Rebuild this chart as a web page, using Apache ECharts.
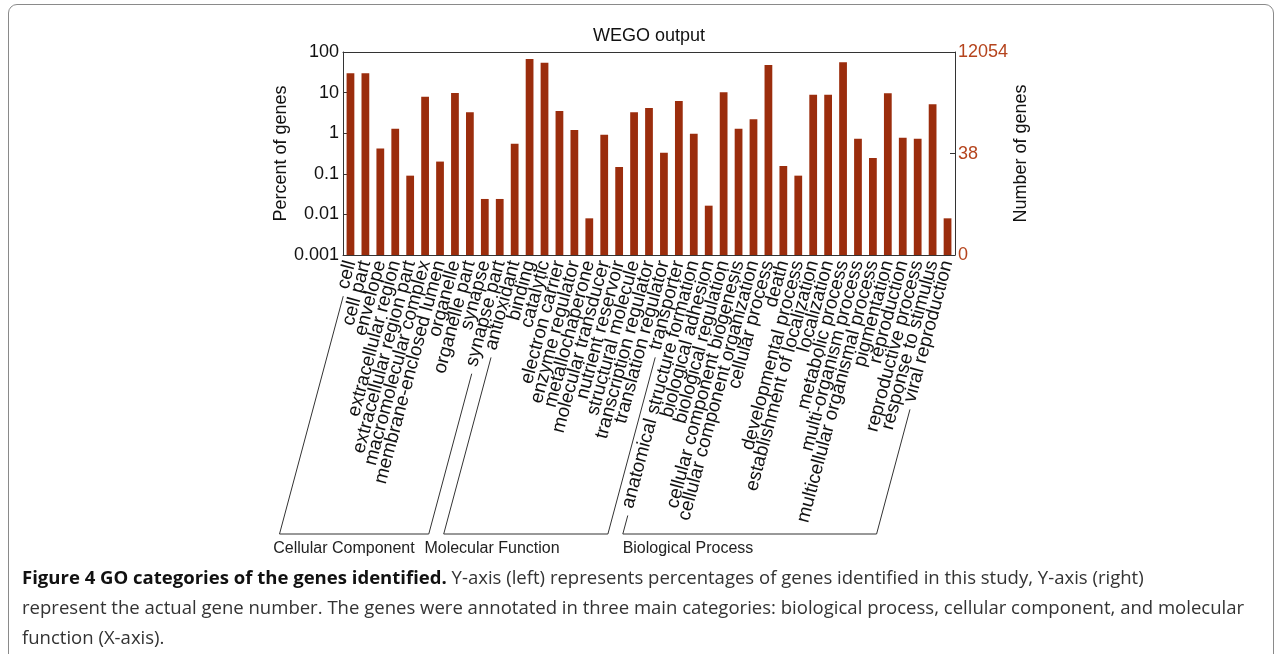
<!DOCTYPE html>
<html><head><meta charset="utf-8">
<script src="https://cdn.jsdelivr.net/npm/echarts@6/dist/echarts.min.js"></script>
<style>
html,body{margin:0;padding:0;background:#fff;}
#wrap{position:relative;width:1282px;height:654px;overflow:hidden;}
#frame{position:absolute;left:8px;top:4px;width:1264px;height:720px;border:1px solid #8a8a8a;border-radius:9px;}
#chart{position:absolute;left:0;top:0;width:1282px;height:654px;}
#caption{position:absolute;left:22px;top:562px;font-family:'Open Sans';font-size:18.55px;line-height:30px;color:#333;white-space:nowrap;}
#caption b{color:#111;font-weight:700;}
</style></head>
<body><div id="wrap"><div id="frame"></div><div id="chart"></div>
<div id="caption"><b>Figure 4 GO categories of the genes identified.</b> Y-axis (left) represents percentages of genes identified in this study, Y-axis (right)<br>represent the actual gene number. The genes were annotated in three main categories: biological process, cellular component, and molecular<br>function (X-axis).</div>
</div>
<script>
const categories = [
  'cell','cell part','envelope','extracellular region','extracellular region part','macromolecular complex',
  'membrane-enclosed lumen','organelle','organelle part','synapse','synapse part',
  'antioxidant','binding','catalytic','electron carrier','enzyme regulator','metallochaperone',
  'molecular transducer','nutrient reservoir','structural molecule','transcription regulator',
  'translation regulator','transporter',
  'anatomical structure formation','biological adhesion','biological regulation',
  'cellular component biogenesis','cellular component organization','cellular process','death',
  'developmental process','establishment of localization','localization','metabolic process',
  'multi-organism process','multicellular organismal process','pigmentation','reproduction',
  'reproductive process','response to stimulus','viral reproduction'
];
const percentValues = [
  30, 30, 0.42, 1.29, 0.09, 7.9,
  0.2, 9.8, 3.3, 0.024, 0.024,
  0.55, 67, 54, 3.5, 1.2, 0.008,
  0.92, 0.147, 3.27, 4.2,
  0.33, 6.2,
  0.97, 0.0164, 10.2,
  1.29, 2.2, 48, 0.156,
  0.09, 8.9, 8.9, 55.7,
  0.73, 0.245, 9.6, 0.77,
  0.73, 5.2, 0.008
];
const groupNames = ['Cellular Component','Molecular Function','Biological Process'];
const groupSizes = [11, 12, 18];
const groupLabelX = [344, 492, 688];
const rightTickCounts = [0, 38, 12054];
const totalGenes = 12054;
const percentMin = 0.001, percentMax = 100;

const FONT = 'Liberation Sans';
const BAR_COLOR = '#9b2d0d';
function countPos(n){ return n === 0 ? 0 : Math.log10(n / totalGenes * 100 / percentMin); }
const rightMax = Math.log10(percentMax / percentMin);
const rightPositions = rightTickCounts.map(countPos);

const chart = echarts.init(document.getElementById('chart'), null, {renderer:'canvas'});
const axisLineStyle = {color:'#333', width:1};
const option = {
  animation:false,
  textStyle:{fontFamily:FONT},
  grid:{left:343, right:327, top:52, bottom:399, outerBoundsMode:'none', containLabel:false},
  xAxis:[
    {type:'category', data:categories, position:'bottom', boundaryGap:true,
     axisLine:{lineStyle:axisLineStyle},
     axisTick:{inside:true, alignWithLabel:true, length:4, lineStyle:axisLineStyle},
     axisLabel:{rotate:75, interval:0, fontSize:19, color:'#111', margin:6, fontFamily:FONT}},
    {type:'category', data:categories, position:'top', boundaryGap:true,
     axisLine:{lineStyle:axisLineStyle},
     axisTick:{inside:true, alignWithLabel:true, length:4, lineStyle:axisLineStyle},
     axisLabel:{show:false},
     name:'WEGO output', nameLocation:'middle', nameGap:7,
     nameTextStyle:{fontSize:18, color:'#111', fontFamily:FONT, verticalAlign:'bottom'}}
  ],
  yAxis:[
    {type:'log', logBase:10, min:percentMin, max:percentMax, position:'left',
     axisLine:{show:true, lineStyle:axisLineStyle},
     axisTick:{show:true, inside:true, length:5, lineStyle:axisLineStyle},
     axisLabel:{fontSize:18, color:'#111', margin:4, fontFamily:FONT},
     splitLine:{show:false},
     name:'Percent of genes', nameLocation:'middle', nameGap:45, nameRotate:90,
     nameTextStyle:{fontSize:18, color:'#111', fontFamily:FONT}},
    {type:'value', min:0, max:rightMax, position:'right',
     axisLine:{show:true, lineStyle:axisLineStyle},
     axisTick:{show:true, inside:true, length:5, lineStyle:axisLineStyle, customValues:[rightPositions[1]]},
     axisLabel:{fontSize:18, color:'#b5441d', margin:3, fontFamily:FONT, customValues:rightPositions,
       formatter:function(v){
         for (let i=0;i<rightPositions.length;i++){ if (Math.abs(rightPositions[i]-v) < 1e-6) return String(rightTickCounts[i]); }
         return '';
       }},
     splitLine:{show:false},
     name:'Number of genes', nameLocation:'middle', nameGap:56, nameRotate:90,
     nameTextStyle:{fontSize:18, color:'#111', fontFamily:FONT}}
  ],
  series:[{
    type:'custom', xAxisIndex:0, yAxisIndex:0,
    data:percentValues.map(function(v, i){ return [i, v]; }),
    encode:{x:0, y:1},
    renderItem:function(params, api){
      const i = api.value(0);
      const top = api.coord([i, api.value(1)]);
      const base = api.coord([i, percentMin]);
      const w = api.size([1, 1], [i, 1])[0] * 0.52;
      return {type:'rect', shape:{x:top[0] - w/2, y:top[1], width:w, height:base[1] - top[1]},
              style:{fill:BAR_COLOR}};
    }
  }]
};
chart.setOption(option);

function drawBrackets(){
  const ctx = document.createElement('canvas').getContext('2d');
  ctx.font = '19px "' + FONT + '"';
  const ang = 75 * Math.PI / 180;
  const dir = [-Math.cos(ang), Math.sin(ang)];
  const axisY = chart.convertToPixel({yAxisIndex:0}, percentMin);
  const baseY = axisY + 279;
  const elements = [];
  let idx = 0;
  groupSizes.forEach(function(n, g){
    const first = idx, last = idx + n - 1; idx += n;
    const ends = [first, last].map(function(i){
      const x = chart.convertToPixel({xAxisIndex:0}, categories[i]);
      const ax = x + 3, ay = axisY + 3;
      const L = 11 + ctx.measureText(categories[i]).width;
      const sx = ax + dir[0]*L, sy = ay + dir[1]*L;
      const t = (baseY - ay) / dir[1];
      return {sx:sx, sy:sy, ex:ax + dir[0]*t};
    });
    elements.push({type:'polyline', silent:true,
      shape:{points:[[ends[0].sx, ends[0].sy],[ends[0].ex, baseY],[ends[1].ex, baseY],[ends[1].sx, ends[1].sy]]},
      style:{stroke:'#333', lineWidth:1, fill:null}});
    elements.push({type:'text', silent:true, x:groupLabelX[g], y:baseY + 15,
      style:{text:groupNames[g], fontSize:16, fontFamily:FONT, fill:'#222', align:'center', verticalAlign:'middle'}});
  });
  chart.setOption({graphic:elements});
}
drawBrackets();
</script>
</body></html>
